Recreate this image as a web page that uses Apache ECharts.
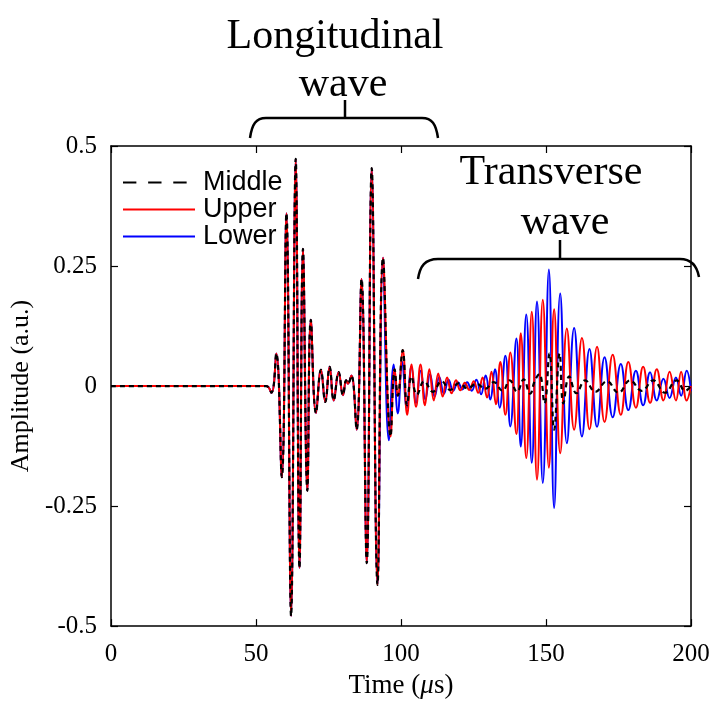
<!DOCTYPE html>
<html>
<head>
<meta charset="utf-8">
<script src="https://cdn.jsdelivr.net/npm/echarts@6/dist/echarts.min.js"></script>
<style>
html,body{margin:0;padding:0;background:#fff;overflow:hidden;}
#chart{width:713px;height:704px;}
</style>
</head>
<body>
<div id="chart"></div>
<script>
// ---- data (time in µs, amplitude in a.u.) ----
// common longitudinal part (all three sensors overlap)
var commonT = [0, 53.5, 55.3, 57.0, 58.9, 60.5, 62.1, 63.7, 65.0, 66.2, 67.7, 68.9, 70.7, 72.4, 73.9, 75.4, 76.8, 78.5, 80.0, 81.1, 81.7, 82.9, 84.7, 86.4, 88.2, 89.9, 91.9, 93.8];
var commonV = [0, 0, -0.014, 0.068, -0.19, 0.36, -0.479, 0.473, -0.379, 0.286, -0.218, 0.138, -0.056, 0.034, -0.033, 0.04, -0.03, 0.029, -0.019, 0.012, 0.005, 0.022, -0.091, 0.223, -0.369, 0.454, -0.414, 0.267];

// Middle sensor after 94 µs
var middleT = [96.4, 97.8, 98.9, 100.6, 102.1, 103.6, 105.5, 108.0, 111.0, 114.0, 117.0, 120.0, 123.0, 126.0, 129.0, 132.0, 135.0, 137.5, 140.0, 142.3, 144.5, 146.2, 147.7, 149.5, 151.2, 152.8, 154.7, 156.0, 158.0, 160.5, 163.5, 167.0, 171.0, 175.0, 179.0, 183.0, 187.0, 191.0, 195.0, 198.0, 200.0];
var middleV = [-0.105, 0.035, -0.02, 0.075, -0.04, 0.02, -0.018, 0.01, -0.012, 0.01, -0.008, 0.006, -0.005, 0.005, -0.006, 0.008, -0.01, 0.012, -0.012, 0.014, -0.016, 0.012, 0.025, -0.036, 0.068, -0.091, 0.068, -0.036, 0.02, -0.015, 0.012, -0.012, 0.01, -0.014, 0.012, -0.01, 0.012, -0.014, 0.012, -0.01, 0.0];

// Upper sensor after 94 µs
var upperT = [96.4, 97.8, 98.9, 100.6, 102.13, 103.66, 105.19, 106.72, 108.25, 109.78, 111.31, 112.84, 114.37, 115.9, 117.43, 118.96, 120.49, 122.02, 123.55, 125.08, 126.61, 128.14, 129.67, 131.2, 132.73, 134.26, 136.0, 137.7, 139.8, 141.3, 143.2, 145.1, 146.9, 148.9, 151.0, 152.8, 154.9, 157.2, 159.7, 162.4, 165.0, 167.6, 170.2, 173.0, 175.8, 178.4, 181.0, 183.5, 185.9, 188.2, 190.5, 192.6, 194.8, 196.6, 198.5, 200.0];
var upperV = [-0.105, 0.035, -0.02, 0.075, -0.06, 0.045, -0.043, 0.045, -0.04, 0.035, -0.03, 0.026, -0.022, 0.018, -0.015, 0.012, -0.009, 0.007, -0.008, 0.01, -0.014, 0.018, -0.024, 0.03, -0.038, 0.05, -0.06, 0.07, -0.1, 0.11, -0.15, 0.155, -0.195, 0.18, -0.17, 0.16, -0.14, 0.12, -0.091, 0.1, -0.09, 0.082, -0.075, 0.065, -0.06, 0.05, -0.045, 0.04, -0.035, 0.035, -0.03, 0.03, -0.03, 0.03, -0.03, 0.0];

// Lower sensor after 94 µs
var lowerT = [95.8, 97.5, 98.9, 100.4, 102.0, 103.6, 105.2, 106.8, 108.4, 110.0, 111.6, 113.2, 114.8, 116.4, 118.0, 119.6, 121.2, 122.8, 124.4, 126.0, 127.6, 129.2, 130.8, 132.4, 134.0, 136.0, 137.7, 139.8, 141.3, 143.2, 145.1, 146.9, 148.9, 151.0, 152.8, 154.9, 157.2, 159.7, 162.4, 165.0, 167.6, 170.2, 173.0, 175.8, 178.4, 181.0, 183.5, 185.9, 188.2, 190.5, 192.6, 194.8, 196.6, 198.5, 200.0];
var lowerV = [-0.113, 0.045, -0.057, 0.05, -0.045, 0.04, -0.035, 0.032, -0.028, 0.025, -0.022, 0.019, -0.016, 0.013, -0.01, 0.008, -0.007, 0.008, -0.01, 0.013, -0.017, 0.022, -0.028, 0.035, -0.045, 0.063, -0.084, 0.099, -0.126, 0.149, -0.16, 0.176, -0.202, 0.243, -0.254, 0.193, -0.119, 0.121, -0.105, 0.077, -0.085, 0.06, -0.065, 0.046, -0.05, 0.032, -0.04, 0.029, -0.03, 0.015, -0.025, 0.018, -0.02, 0.032, -0.01];

var xTicks = [0, 50, 100, 150, 200];
var yTicks = [-0.5, -0.25, 0, 0.25, 0.5];

function pairs(t1, v1, t2, v2) {
  var out = [];
  for (var i = 0; i < t1.length; i++) out.push([t1[i], v1[i]]);
  for (var j = 0; j < t2.length; j++) out.push([t2[j], v2[j]]);
  return out;
}

var chart = echarts.init(document.getElementById('chart'), null, {renderer: 'canvas', width: 713, height: 704});
var serif = '"Liberation Serif", "Times New Roman", serif';
var sans = '"Liberation Sans", Arial, sans-serif';

function axisCommon(extra) {
  var base = {
    axisLine: {show: true, onZero: false, lineStyle: {color: '#000', width: 1.5}},
    axisTick: {show: true, inside: true, length: 7, lineStyle: {color: '#000', width: 1.2}},
    splitLine: {show: false}
  };
  for (var k in extra) base[k] = extra[k];
  return base;
}

var dashIcon = 'path://M0,0h13.3v2.2h-13.3z M25,0h13.3v2.2h-13.3z M50,0h13.3v2.2h-13.3z M71.6,1.1h0.01v0.01h-0.01z';

var lw = 2.5;
var option = {
  backgroundColor: '#fff',
  animation: false,
  grid: {left: 110, top: 146, width: 581, height: 486, containLabel: false},
  legend: {
    orient: 'vertical',
    left: 122,
    top: 169,
    padding: 0,
    symbolKeepAspect: true,
    data: [
      {name: 'Middle', icon: dashIcon, itemStyle: {opacity: 1, color: '#000', borderWidth: 0}},
      {name: 'Upper'},
      {name: 'Lower'}
    ],
    itemWidth: 72,
    itemHeight: 20,
    itemGap: 0,
    itemStyle: {opacity: 0},
    textStyle: {fontFamily: sans, fontSize: 27, color: '#000', lineHeight: 24.5, padding: [0, 0, 0, 3]}
  },
  xAxis: [
    axisCommon({
      type: 'value', min: 0, max: 200, interval: 50, position: 'bottom',
      name: 'Time ({i|μ}s)', nameLocation: 'middle', nameGap: 43,
      nameTextStyle: {fontFamily: serif, fontSize: 27, color: '#000', rich: {i: {fontFamily: serif, fontStyle: 'italic', fontSize: 27, color: '#000'}}},
      axisLabel: {fontFamily: serif, fontSize: 25, color: '#000', margin: 16}
    }),
    axisCommon({
      type: 'value', min: 0, max: 200, interval: 50, position: 'top',
      axisLabel: {show: false}
    })
  ],
  yAxis: [
    axisCommon({
      type: 'value', min: -0.5, max: 0.5, interval: 0.25, position: 'left',
      name: 'Amplitude (a.u.)', nameLocation: 'middle', nameGap: 60,
      nameTextStyle: {fontFamily: serif, fontSize: 26, color: '#000'},
      axisLabel: {fontFamily: serif, fontSize: 25, color: '#000', margin: 14}
    }),
    axisCommon({
      type: 'value', min: -0.5, max: 0.5, interval: 0.25, position: 'right',
      axisLabel: {show: false}
    })
  ],
  series: [
    {
      name: 'Middle', type: 'line', xAxisIndex: 0, yAxisIndex: 0,
      data: pairs(commonT, commonV, middleT, middleV),
      showSymbol: false, symbol: 'none', smooth: 0.45, z: 4,
      lineStyle: {color: '#000', width: 2.2, type: [5, 4]},
      itemStyle: {color: '#000'}
    },
    {
      name: 'Upper', type: 'line', xAxisIndex: 0, yAxisIndex: 0,
      data: pairs(commonT, commonV, upperT, upperV),
      showSymbol: false, symbol: 'none', smooth: 0.45, z: 3,
      lineStyle: {color: '#ff0000', width: 2},
      itemStyle: {color: '#ff0000'}
    },
    {
      name: 'Lower', type: 'line', xAxisIndex: 0, yAxisIndex: 0,
      data: pairs(commonT, commonV, lowerT, lowerV),
      showSymbol: false, symbol: 'none', smooth: 0.45, z: 2,
      lineStyle: {color: '#0000ff', width: 2},
      itemStyle: {color: '#0000ff'}
    }
  ],
  graphic: [
    {type: 'text', style: {text: 'Longitudinal', x: 335, y: 16, font: '42px ' + serif, fill: '#000', textAlign: 'center'}},
    {type: 'text', style: {text: 'wave', x: 343, y: 64, font: '42px ' + serif, fill: '#000', textAlign: 'center'}},
    {type: 'text', style: {text: 'Transverse', x: 551, y: 152, font: '42px ' + serif, fill: '#000', textAlign: 'center'}},
    {type: 'text', style: {text: 'wave', x: 565, y: 202, font: '42px ' + serif, fill: '#000', textAlign: 'center'}},
    // longitudinal bracket
    {type: 'bezierCurve', shape: {x1: 250, y1: 138, cpx1: 252, cpy1: 124, cpx2: 256, cpy2: 118, x2: 266, y2: 118}, style: {stroke: '#000', lineWidth: lw, fill: null}},
    {type: 'line', shape: {x1: 266, y1: 118, x2: 422, y2: 118}, style: {stroke: '#000', lineWidth: lw}},
    {type: 'bezierCurve', shape: {x1: 422, y1: 118, cpx1: 432, cpy1: 118, cpx2: 436, cpy2: 124, x2: 438, y2: 138}, style: {stroke: '#000', lineWidth: lw, fill: null}},
    {type: 'line', shape: {x1: 345, y1: 118, x2: 345, y2: 100}, style: {stroke: '#000', lineWidth: lw}},
    // transverse bracket
    {type: 'bezierCurve', shape: {x1: 418, y1: 279, cpx1: 420, cpy1: 266, cpx2: 425, cpy2: 259, x2: 438, y2: 259}, style: {stroke: '#000', lineWidth: lw, fill: null}},
    {type: 'line', shape: {x1: 438, y1: 259, x2: 680, y2: 259}, style: {stroke: '#000', lineWidth: lw}},
    {type: 'bezierCurve', shape: {x1: 680, y1: 259, cpx1: 692, cpy1: 259, cpx2: 697, cpy2: 266, x2: 699, y2: 277}, style: {stroke: '#000', lineWidth: lw, fill: null}},
    {type: 'line', shape: {x1: 560, y1: 259, x2: 560, y2: 240}, style: {stroke: '#000', lineWidth: lw}}
  ]
};

chart.setOption(option);
</script>
</body>
</html>
